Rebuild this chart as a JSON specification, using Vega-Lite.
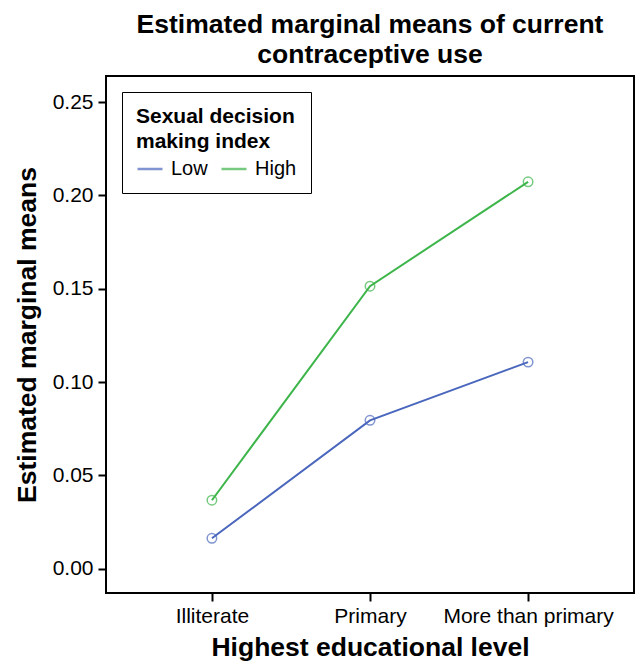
{
  "$schema": "https://vega.github.io/schema/vega-lite/v6.json",
  "autosize": "none",
  "width": 528,
  "height": 517,
  "padding": {"left": 106, "top": 76, "right": 3, "bottom": 73},
  "background": "white",
  "title": {
    "text": ["Estimated marginal means of current", "contraceptive use"],
    "font": "Liberation Sans",
    "fontSize": 26.5,
    "fontWeight": "bold",
    "color": "black",
    "anchor": "middle",
    "frame": "group",
    "lineHeight": 30,
    "offset": 8
  },
  "config": {
    "view": {"stroke": "black", "strokeWidth": 2},
    "font": "Liberation Sans"
  },
  "data": {
    "values": [
      {"edu": "Illiterate", "sdm": "Low", "mean": 0.0163},
      {"edu": "Primary", "sdm": "Low", "mean": 0.0795},
      {"edu": "More than primary", "sdm": "Low", "mean": 0.1107},
      {"edu": "Illiterate", "sdm": "High", "mean": 0.0367},
      {"edu": "Primary", "sdm": "High", "mean": 0.1514},
      {"edu": "More than primary", "sdm": "High", "mean": 0.2073}
    ]
  },
  "encoding": {
    "x": {
      "field": "edu",
      "type": "ordinal",
      "sort": ["Illiterate", "Primary", "More than primary"],
      "scale": {"type": "point", "padding": 0.67},
      "axis": {
        "title": "Highest educational level",
        "titleFont": "Liberation Sans",
        "titleFontSize": 26.5,
        "titleFontWeight": "bold",
        "titleColor": "black",
        "titlePadding": 8,
        "labelFont": "Liberation Sans",
        "labelFontSize": 21,
        "labelColor": "black",
        "labelAngle": 0,
        "labelPadding": 4,
        "tickColor": "black",
        "tickWidth": 2,
        "tickSize": 8,
        "domain": false,
        "grid": false
      }
    },
    "y": {
      "field": "mean",
      "type": "quantitative",
      "scale": {"domain": [-0.013, 0.264], "nice": false, "zero": false},
      "axis": {
        "title": "Estimated marginal means",
        "titleFont": "Liberation Sans",
        "titleFontSize": 26.5,
        "titleFontWeight": "bold",
        "titleColor": "black",
        "titlePadding": 11,
        "values": [0, 0.05, 0.1, 0.15, 0.2, 0.25],
        "format": ".2f",
        "labelFont": "Liberation Sans",
        "labelFontSize": 21,
        "labelColor": "black",
        "labelPadding": 5,
        "tickColor": "black",
        "tickWidth": 2,
        "tickSize": 8,
        "domain": false,
        "grid": false
      }
    },
    "color": {
      "field": "sdm",
      "type": "nominal",
      "sort": ["Low", "High"],
      "scale": {"domain": ["Low", "High"], "range": ["#4a67bd", "#3db54a"]},
      "legend": {
        "title": ["Sexual decision", "making index"],
        "titleFont": "Liberation Sans",
        "titleFontSize": 21,
        "titleFontWeight": "bold",
        "titleColor": "black",
        "titleLineHeight": 25,
        "titlePadding": 3,
        "labelFont": "Liberation Sans",
        "labelFontSize": 20,
        "labelColor": "black",
        "orient": "top-left",
        "offset": 16,
        "direction": "horizontal",
        "columns": 2,
        "symbolType": "stroke",
        "symbolSize": 625,
        "symbolStrokeWidth": 2.5,
        "padding": 14,
        "strokeColor": "black",
        "fillColor": "white",
        "columnPadding": 8,
        "labelOffset": 7
      }
    }
  },
  "layer": [
    {"mark": {"type": "line", "strokeWidth": 2}},
    {"mark": {"type": "point", "filled": false, "size": 90, "strokeWidth": 1.5, "opacity": 0.7}}
  ]
}
